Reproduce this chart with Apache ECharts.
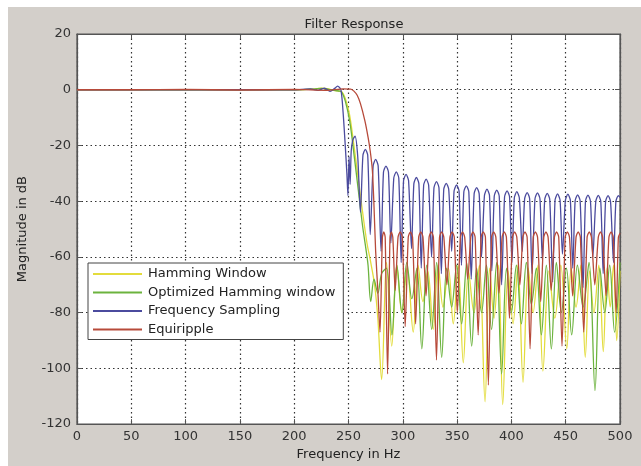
<!DOCTYPE html>
<html><head><meta charset="utf-8">
<script src="https://cdn.jsdelivr.net/npm/echarts@6/dist/echarts.min.js"></script>
<style>html,body{margin:0;padding:0;background:#fff}#c{width:641px;height:466px}</style>
</head><body><div id="c"></div>
<script>
// ---- tick labels ----
const xTicks = [0, 50, 100, 150, 200, 250, 300, 350, 400, 450, 500];
const yTicks = [-120, -100, -80, -60, -40, -20, 0, 20];

// ---- series names ----
const seriesNames = ['Hamming Window', 'Optimized Hamming window', 'Frequency Sampling', 'Equiripple'];

// ---- Hamming Window (yellow) ----
const hammF = [0, 50, 100, 150, 200, 220, 226, 232, 238, 242, 244, 247, 251, 255, 259, 263, 267, 270, 274, 277,
  280.5, 285, 289.8, 294.5, 299, 304, 309.6, 314, 318.5, 323, 328, 332.5, 337, 342, 346.5, 351, 355.7, 360.5, 365.5, 370.5,
  375.7, 380, 384, 388, 392, 397, 401.5, 406, 410.7, 415.5, 420, 424.5, 429, 434.5, 440, 445.5, 451, 455, 459.5, 464,
  468, 472, 476, 480.5, 484.6, 488, 491, 494, 497, 500];
const hammDb = [0, 0, 0, 0, 0, 0.3, 0.6, 0.2, -0.3, -0.5, -0.8, -3, -9, -20, -32, -44, -55, -61, -70, -82,
  -104, -62, -92, -63, -80, -64, -87, -63, -76, -65, -86, -63, -78, -64, -84, -63, -98, -65, -80, -63,
  -112, -64, -82, -63, -113, -65, -84, -63, -105, -64, -80, -63, -101, -65, -82, -63, -93, -64, -78, -63,
  -96, -65, -80, -63, -94, -64, -78, -63, -90, -65];

// ---- Optimized Hamming window (green) ----
const optF = [0, 50, 100, 150, 200, 218, 225, 232, 238, 242, 244, 247, 251, 255, 259, 263, 266, 268, 270.5, 273.5,
  277, 280.5, 285, 290, 294.5, 299.2, 303.7, 308.3, 313, 317.5, 322, 326.6, 331.2, 335.8, 340.4, 345, 349.6, 354.2, 358.8, 363.4,
  368, 372.5, 377, 381.7, 386.4, 391, 395.5, 400, 404.6, 409.2, 413.8, 418.4, 423, 427.6, 432.2, 436.8, 441.4, 446, 450.7, 455.5,
  460.8, 466, 471.5, 477, 481.5, 486, 490.5, 495, 500];
const optDb = [0, 0, 0, 0, 0, 0.2, 0.5, 0.1, -0.3, -0.5, -1, -4, -11, -23, -36, -49, -57, -63, -76, -68,
  -73, -66, -64, -88, -63, -80, -62, -75, -64, -93, -63, -86, -62, -96, -64, -78, -63, -84, -62, -92,
  -64, -80, -63, -86, -62, -102, -64, -80, -63, -84, -62, -77, -64, -88, -63, -93, -62, -80, -64, -88,
  -63, -78, -62, -108, -64, -80, -63, -87, -62];

// ---- Frequency Sampling (blue) ----
const fsF = [0, 50, 100, 150, 200, 215, 222, 228, 233, 237, 240, 243, 245, 247, 248.5, 249.5, 250.5, 251.5, 252.5, 254,
  256, 258.5, 261,
  263.3, 265.5, 267.7, 270,
  272.7, 275, 277.3, 280,
  282.2, 284.5, 286.8, 289,
  291.7, 294, 296.3, 298.5,
  300.7, 303, 305.3, 308,
  310.2, 312.5, 314.8, 317,
  319.2, 321.5, 323.8, 326.5,
  328.7, 331, 333.3, 335.5,
  337.7, 340, 342.3, 345,
  347.2, 349.5, 351.8, 354,
  356.2, 358.5, 360.8, 363,
  365.7, 368, 370.3, 372.5,
  375.2, 377.5, 379.8, 382,
  384.2, 386.5, 388.8, 391,
  393.7, 396, 398.3, 400.5,
  402.7, 405, 407.3, 410,
  412.2, 414.5, 416.8, 419,
  421.7, 424, 426.3, 428.5,
  430.7, 433, 435.3, 438,
  440.2, 442.5, 444.8, 447,
  449.7, 452, 454.3, 456.5,
  458.7, 461, 463.3, 466,
  468.2, 470.5, 472.8, 475,
  477.7, 480, 482.3, 484.5,
  486.7, 489, 491.3, 494,
  496.2, 498.5, 500];
const fsDb = [0, 0, 0, 0, 0, 0.3, -0.2, 0.6, -0.6, 0.4, 1.3, 0, -8, -20, -30, -38, -24, -34, -22, -18,
  -16.7, -24, -44,
  -23.5, -21.4, -23.5, -52,
  -27.3, -25, -27.3, -58,
  -29.6, -27.4, -29.6, -55,
  -31.7, -29.5, -31.7, -62,
  -32.6, -30.4, -32.6, -57,
  -33.7, -31.5, -33.7, -64,
  -34.3, -32.1, -34.3, -60,
  -35.2, -33, -35.2, -66,
  -35.8, -33.6, -35.8, -58,
  -36.4, -34.2, -36.4, -63,
  -36.7, -34.5, -36.7, -68,
  -37.3, -35.1, -37.3, -60,
  -37.9, -35.7, -37.9, -65,
  -38.2, -36, -38.2, -70,
  -38.5, -36.3, -38.5, -62,
  -38.8, -36.6, -38.8, -58,
  -39.1, -36.9, -39.1, -66,
  -39.2, -37, -39.2, -61,
  -39.4, -37.2, -39.4, -69,
  -39.6, -37.4, -39.6, -59,
  -39.7, -37.5, -39.7, -64,
  -39.9, -37.7, -39.9, -71,
  -40, -37.8, -40, -60,
  -40.1, -37.9, -40.1, -66,
  -40.2, -38, -40.2, -62,
  -40.2, -38, -38.6];

// ---- Equiripple (red) ----
const eqF = [0, 50, 100, 150, 200, 230, 245, 252, 255, 258, 261, 265, 268, 270, 272, 273.5, 275, 277, 279,
  281.2, 282.5, 283.8, 286,
  288.2, 289.5, 290.8, 293,
  295.6, 297.6, 299.6, 302.2,
  305, 307, 309, 311.8,
  314.6, 316.6, 318.6, 321.4,
  324.2, 326.2, 328.2, 331,
  333.8, 335.8, 337.8, 340.6,
  343.4, 345.4, 347.4, 350.2,
  353, 355, 357, 359.8,
  362.6, 364.6, 366.6, 369.4,
  372.1, 374.1, 376.1, 378.8,
  381.7, 383.7, 385.7, 388.6,
  391.4, 393.4, 395.4, 398.2,
  401, 403, 405, 407.8,
  410.5, 412.5, 414.5, 417.2,
  420.1, 422.1, 424.1, 427,
  429.8, 431.8, 433.8, 436.6,
  439.6, 441.6, 443.6, 446.6,
  449.5, 451.5, 453.5, 456.4,
  459.5, 461.5, 463.5, 466.6,
  469.7, 471.7, 473.7, 476.8,
  480, 482, 484, 487.2,
  489.8, 491.8, 493.8, 496.5,
  498.5, 500];
const eqDb = [0, 0, 0.1, -0.1, 0.1, -0.2, 0.3, 0.2, -0.5, -2, -5, -11, -17, -22, -29, -42, -58, -72, -87,
  -53, -51, -53, -102,
  -53, -51, -53, -72,
  -53, -51, -53, -85,
  -53, -51, -53, -84,
  -53, -51, -53, -74,
  -53, -51, -53, -97,
  -53, -51, -53, -70,
  -53, -51, -53, -80,
  -53, -51, -53, -68,
  -53, -51, -53, -88,
  -53, -51, -53, -106,
  -53, -51, -53, -73,
  -53, -51, -53, -82,
  -53, -51, -53, -70,
  -53, -51, -53, -93,
  -53, -51, -53, -76,
  -53, -51, -53, -72,
  -53, -51, -53, -92,
  -53, -51, -53, -74,
  -53, -51, -53, -87,
  -53, -51, -53, -70,
  -53, -51, -53, -74,
  -53, -51, -53, -80,
  -53, -51.5];

const colors = ['#e3dc3c', '#6cb33e', '#4b4b9e', '#b74a3a'];
const smoothing = [0.35, 0.35, 0.25, 0.25];
const fontFam = '"DejaVu Sans", Arial, sans-serif';

function pairs(f, d) { return f.map((v, i) => [v, d[i]]); }
const seriesData = [pairs(hammF, hammDb), pairs(optF, optDb), pairs(fsF, fsDb), pairs(eqF, eqDb)];

const chart = echarts.init(document.getElementById('c'), null, {renderer: 'canvas'});
const axisCommon = {
  axisLine: {show: true, onZero: false, lineStyle: {color: '#555', width: 1.2}},
  axisTick: {show: true, inside: true, length: 5, lineStyle: {color: '#555'}},
};
chart.setOption({
  animation: false,
  backgroundColor: '#ffffff',
  graphic: [{type: 'rect', z: -10, shape: {x: 8, y: 7, width: 641, height: 466}, style: {fill: '#d3cfca'}}],
  title: {text: 'Filter Response', left: 349, top: 13, textAlign: 'center',
    textStyle: {fontSize: 13, fontWeight: 'normal', color: '#222', fontFamily: fontFam}},
  grid: {left: 77, right: 21, top: 34, bottom: 41, show: true, backgroundColor: '#fff', borderColor: '#555', borderWidth: 1.2},
  legend: {
    data: seriesNames, orient: 'vertical', left: 88, top: 263,
    backgroundColor: '#fff', borderColor: '#444', borderWidth: 1, borderRadius: 0,
    padding: [4, 8, 3, 5], itemWidth: 49, itemHeight: 2, itemGap: 4.5, icon: 'rect',
    textStyle: {fontSize: 13, lineHeight: 14, color: '#222', fontFamily: fontFam, padding: [0, 0, 0, 1]}
  },
  xAxis: [
    Object.assign({type: 'value', min: xTicks[0], max: xTicks[xTicks.length - 1], interval: xTicks[1] - xTicks[0],
      name: 'Frequency in Hz', nameLocation: 'middle', nameGap: 22,
      nameTextStyle: {fontSize: 13, color: '#222', fontFamily: fontFam},
      axisLabel: {fontSize: 13, color: '#333', fontFamily: fontFam, margin: 6},
      splitLine: {show: true, lineStyle: {color: '#333', type: [1.5, 3], width: 1.2}}}, axisCommon),
    Object.assign({type: 'value', position: 'top', min: xTicks[0], max: xTicks[xTicks.length - 1], interval: xTicks[1] - xTicks[0],
      axisLabel: {show: false}, splitLine: {show: false}}, axisCommon)
  ],
  yAxis: [
    Object.assign({type: 'value', min: yTicks[0], max: yTicks[yTicks.length - 1], interval: yTicks[1] - yTicks[0],
      name: 'Magnitude in dB', nameLocation: 'middle', nameGap: 48,
      nameTextStyle: {fontSize: 13, color: '#222', fontFamily: fontFam},
      axisLabel: {fontSize: 13, color: '#333', fontFamily: fontFam, margin: 6},
      splitLine: {show: true, lineStyle: {color: '#333', type: [1.5, 3], width: 1.2}}}, axisCommon),
    Object.assign({type: 'value', position: 'right', min: yTicks[0], max: yTicks[yTicks.length - 1], interval: yTicks[1] - yTicks[0],
      axisLabel: {show: false}, splitLine: {show: false}}, axisCommon)
  ],
  series: seriesNames.map((n, i) => ({
    name: n, type: 'line', data: seriesData[i], xAxisIndex: 0, yAxisIndex: 0,
    showSymbol: false, symbol: 'none', smooth: smoothing[i], clip: true,
    color: colors[i], lineStyle: {color: colors[i], width: 1.3}
  }))
});
</script></body></html>
